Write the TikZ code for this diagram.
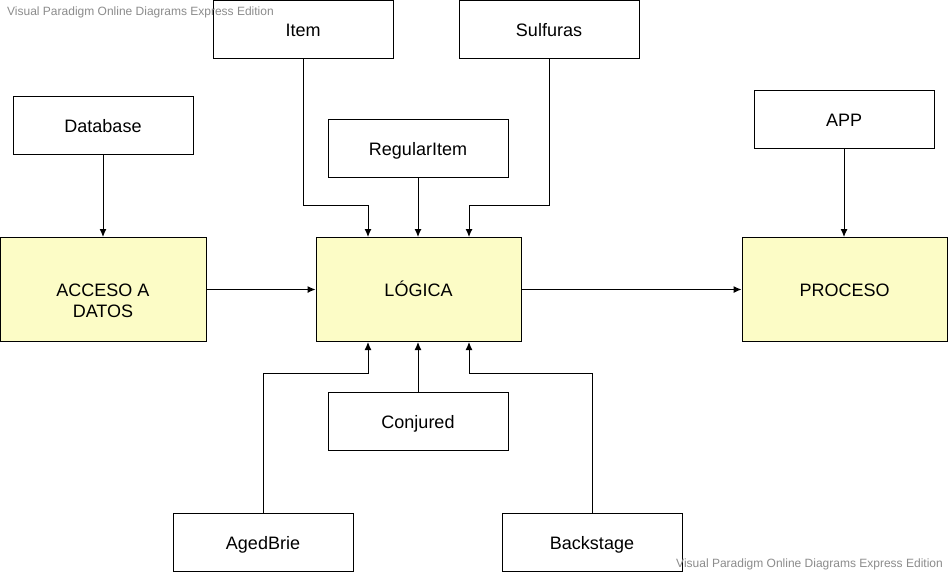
\documentclass[tikz,border=0pt]{standalone}
\usepackage{fontspec}
\setmainfont{Liberation Sans}
\usetikzlibrary{arrows.meta}
\definecolor{boxyellow}{RGB}{252,252,198}
\definecolor{wmgrey}{RGB}{140,140,140}
\tikzset{
  lbl/.style={font=\fontsize{18pt}{21pt}\selectfont, text height=13pt, text depth=0pt},
  wbox/.style={draw=black, line width=1pt, fill=white, minimum width=180pt, minimum height=58pt, inner sep=0pt, lbl},
  ybox/.style={draw=black, line width=1pt, fill=boxyellow, minimum width=205pt, minimum height=104pt, inner sep=0pt, align=center, lbl},
  arr/.style={draw=black, line width=1pt, -{Latex[length=8pt,width=7pt]}},
  wm/.style={text=wmgrey, inner sep=0pt, font=\fontsize{12pt}{14pt}\selectfont}
}
\begin{document}
\begin{tikzpicture}[x=1pt,y=-1pt]
\useasboundingbox (0,0) rectangle (949,574);
\fill[white] (0,0) rectangle (949,574);
% white boxes
\node[wbox] (item) at (303,29.5) {Item};
\node[wbox] (sulfuras) at (549,29.5) {Sulfuras};
\node[wbox] (database) at (103,125.5) {Database};
\node[wbox] (regular) at (418,148.5) {RegularItem};
\node[wbox] (app) at (844,119.5) {APP};
\node[wbox] (conjured) at (418,421.5) {Conjured};
\node[wbox] (agedbrie) at (263,542.5) {AgedBrie};
\node[wbox] (backstage) at (592,542.5) {Backstage};
% yellow boxes
\node[ybox, minimum width=206pt] (acceso) at (103,289.5) {};
\node[lbl, align=center, inner sep=0pt] (accesotxt) at (103,311) {ACCESO A\\DATOS};
\node[ybox] (logica) at (418.5,289.5) {LÓGICA};
\node[ybox] (proceso) at (844.5,289.5) {PROCESO};
% junction coordinates
\coordinate (jtl) at (368,205);
\coordinate (jtr) at (469,205);
\coordinate (jbl) at (368,373);
\coordinate (jbr) at (469,373);
% connectors
\draw[arr] (item.south) |- (jtl) -- (logica.north -| jtl);
\draw[arr] (regular.south) -- (logica.north -| regular.south);
\draw[arr] (sulfuras.south) |- (jtr) -- (logica.north -| jtr);
\draw[arr] (database.south) -- (acceso.north -| database.south);
\draw[arr] (app.south) -- (proceso.north -| app.south);
\draw[arr] (acceso.east) -- (logica.west);
\draw[arr] (logica.east) -- (proceso.west);
\draw[arr] (conjured.north) -- (logica.south -| conjured.north);
\draw[arr] (agedbrie.north) |- (jbl) -- (logica.south -| jbl);
\draw[arr] (backstage.north) |- (jbr) -- (logica.south -| jbr);
% watermarks
\node[wm, anchor=west] (wm1) at (7,12) {Visual Paradigm Online Diagrams Express Edition};
\node[wm, anchor=east] (wm2) at (943,564) {Visual Paradigm Online Diagrams Express Edition};
\end{tikzpicture}
\end{document}
